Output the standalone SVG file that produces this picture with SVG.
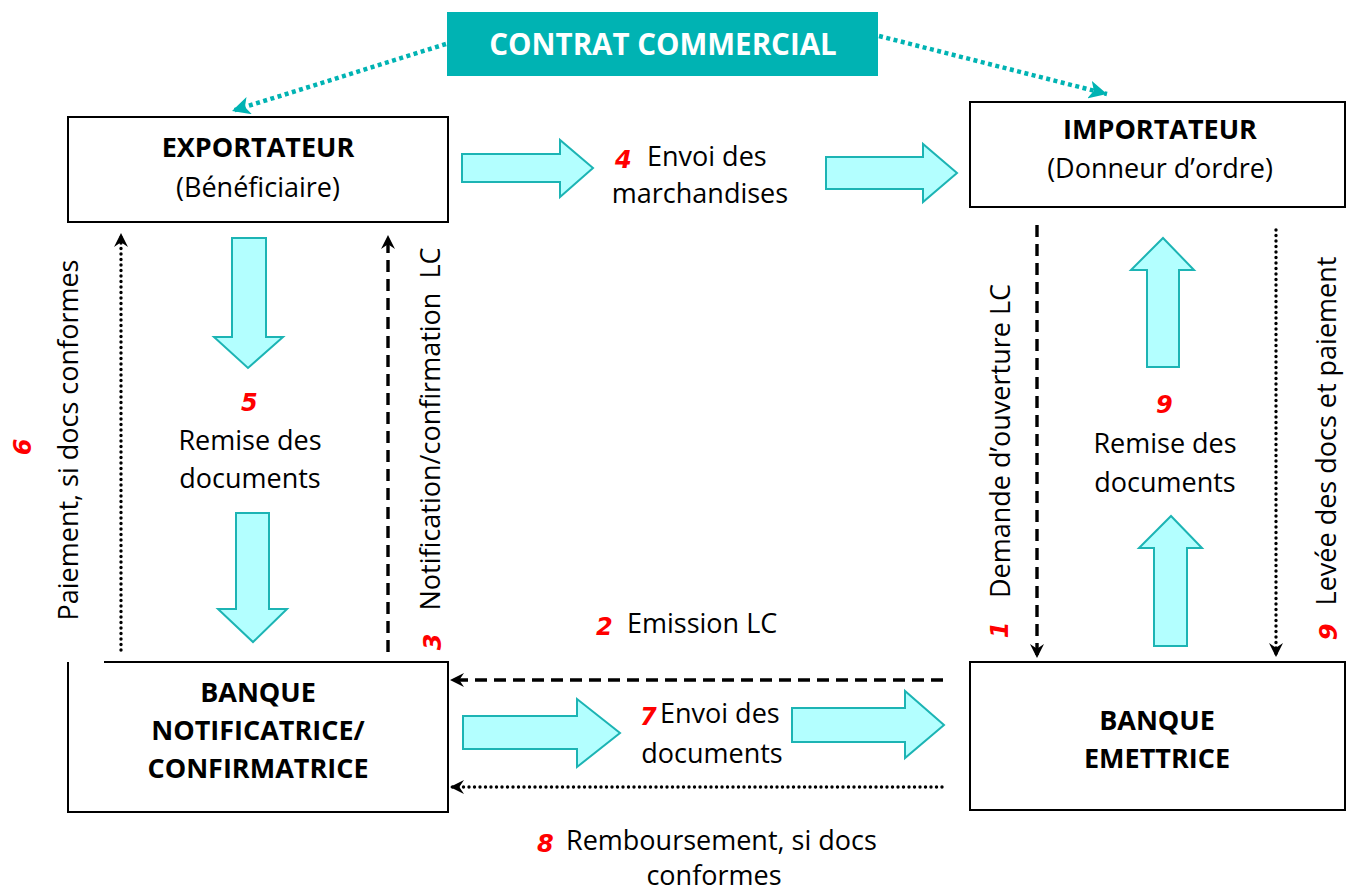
<svg xmlns="http://www.w3.org/2000/svg" width="1354" height="893" viewBox="0 0 1354 893">
<style>
  .box { fill: #fff; stroke: #000; stroke-width: 2; }
  .title { font-family: "Open Sans", "Liberation Sans", sans-serif; font-weight: bold; font-size: 27px; fill: #000; text-anchor: middle; }
  .sub { font-family: "Open Sans", "Liberation Sans", sans-serif; font-size: 27px; fill: #000; text-anchor: middle; }
  .lbl { font-family: "Open Sans", "Liberation Sans", sans-serif; font-size: 27px; fill: #000; }
  .num { font-family: "DejaVu Sans", "Liberation Sans", sans-serif; font-weight: bold; font-style: italic; font-size: 24px; fill: #ff0000; }
  .block { fill: #b3ffff; stroke: #1cb4b4; stroke-width: 2; }
  .dash { fill: none; stroke: #000; stroke-width: 3.4; stroke-dasharray: 12 7; }
  .dot { fill: none; stroke: #000; stroke-width: 3.4; stroke-dasharray: 0 5.5; stroke-linecap: round; }
  .tdot { fill: none; stroke: #00b3b3; stroke-width: 4.5; stroke-dasharray: 4 3.5; }
</style>
<defs>
  <marker id="ah" viewBox="0 0 12 12" refX="12" refY="6" markerWidth="14" markerHeight="14" markerUnits="userSpaceOnUse" orient="auto">
    <path d="M0,0 L12,6 L0,12 L4,6 z" fill="#000"/>
  </marker>
  <marker id="aht" viewBox="0 0 16 16" refX="16" refY="8" markerWidth="18" markerHeight="18" markerUnits="userSpaceOnUse" orient="auto">
    <path d="M0,0 L16,8 L0,16 L4,8 z" fill="#00b3b3"/>
  </marker>
</defs>
<rect width="1354" height="893" fill="#fff"/>

<g id="connectors">
  <line class="tdot" x1="446" y1="44" x2="232" y2="111" marker-end="url(#aht)"/>
  <line class="tdot" x1="879" y1="36" x2="1107" y2="94" marker-end="url(#aht)"/>
  <line class="dot" x1="121" y1="650" x2="121" y2="233" marker-end="url(#ah)"/>
  <line class="dash" x1="388" y1="652" x2="388" y2="235" marker-end="url(#ah)"/>
  <line class="dash" x1="1037" y1="225" x2="1037" y2="658" marker-end="url(#ah)"/>
  <line class="dot" x1="1276" y1="230" x2="1276" y2="657" marker-end="url(#ah)"/>
  <line class="dash" x1="943" y1="680" x2="450" y2="680" marker-end="url(#ah)"/>
  <line class="dot" x1="942" y1="787" x2="450" y2="787" marker-end="url(#ah)"/>
  <polygon class="block" points="462,154 560,154 560,140 593,168 560,197 560,182 462,182"/>
  <polygon class="block" points="826,157 923,157 923,144 957,173 923,202 923,189 826,189"/>
  <polygon class="block" points="232,238 266,238 266,337 283,337 248,368 214,337 232,337"/>
  <polygon class="block" points="236,513 269,513 269,609 287,609 253,642 218,609 236,609"/>
  <polygon class="block" points="1147,367 1179,367 1179,270 1194,270 1163,238 1131,270 1147,270"/>
  <polygon class="block" points="1154,646 1187,646 1187,548 1202,548 1171,516 1139,548 1154,548"/>
  <polygon class="block" points="463,716 577,716 577,699 620,733 577,767 577,749 463,749"/>
  <polygon class="block" points="792,708 905,708 905,691 944,725 905,758 905,742 792,742"/>
</g>

<g id="contrat">
  <rect x="447" y="12" width="431" height="64" fill="#00b3b3"/>
  <text x="663" y="55" class="title" style="fill:#fff;font-size:29.5px">CONTRAT COMMERCIAL</text>
</g>

<g id="exportateur">
  <rect class="box" x="68" y="117" width="380" height="105"/>
  <text x="258" y="157" class="title">EXPORTATEUR</text>
  <text x="258" y="197" class="sub">(Bénéficiaire)</text>
</g>

<g id="importateur">
  <rect class="box" x="970" y="102" width="375" height="105"/>
  <text x="1160" y="139" class="title">IMPORTATEUR</text>
  <text x="1160" y="178" class="sub">(Donneur d’ordre)</text>
</g>

<g id="banque-notificatrice">
  <path class="box" d="M104,662 H448 V812 H68 V662"/>
  <text x="258" y="702" class="title">BANQUE</text>
  <text x="258" y="740" class="title">NOTIFICATRICE/</text>
  <text x="258" y="778" class="title">CONFIRMATRICE</text>
</g>

<g id="banque-emettrice">
  <rect class="box" x="970" y="662" width="375" height="148"/>
  <text x="1157" y="730" class="title">BANQUE</text>
  <text x="1157" y="768" class="title">EMETTRICE</text>
</g>

<g id="labels">
  <text x="615" y="168" class="num">4</text>
  <text x="647" y="166" class="lbl">Envoi des</text>
  <text x="700" y="203" class="sub">marchandises</text>

  <text x="241" y="411" class="num">5</text>
  <text x="250" y="450" class="sub">Remise des</text>
  <text x="250" y="488" class="sub">documents</text>

  <text x="1156" y="413" class="num">9</text>
  <text x="1165" y="453" class="sub">Remise des</text>
  <text x="1165" y="492" class="sub">documents</text>

  <text transform="translate(31,447) rotate(-90)" class="num" text-anchor="middle">6</text>
  <text transform="translate(78,440) rotate(-90)" class="sub">Paiement, si docs conformes</text>

  <text transform="translate(441,642) rotate(-90)" class="num" text-anchor="middle">3</text>
  <text transform="translate(440,429) rotate(-90)" class="sub" xml:space="preserve">Notification/confirmation  LC</text>

  <text transform="translate(1008,630) rotate(-90)" class="num" text-anchor="middle">1</text>
  <text transform="translate(1010,441) rotate(-90)" class="sub">Demande d’ouverture LC</text>

  <text transform="translate(1337,632) rotate(-90)" class="num" text-anchor="middle">9</text>
  <text transform="translate(1336,431) rotate(-90)" class="sub">Levée des docs et paiement</text>

  <text x="596" y="635" class="num">2</text>
  <text x="627" y="633" class="lbl">Emission LC</text>

  <text x="640" y="725" class="num">7</text>
  <text x="660" y="723" class="lbl">Envoi des</text>
  <text x="712" y="763" class="sub">documents</text>

  <text x="537" y="852" class="num">8</text>
  <text x="566" y="850" class="lbl">Remboursement, si docs</text>
  <text x="714" y="885" class="sub">conformes</text>
</g>
</svg>
